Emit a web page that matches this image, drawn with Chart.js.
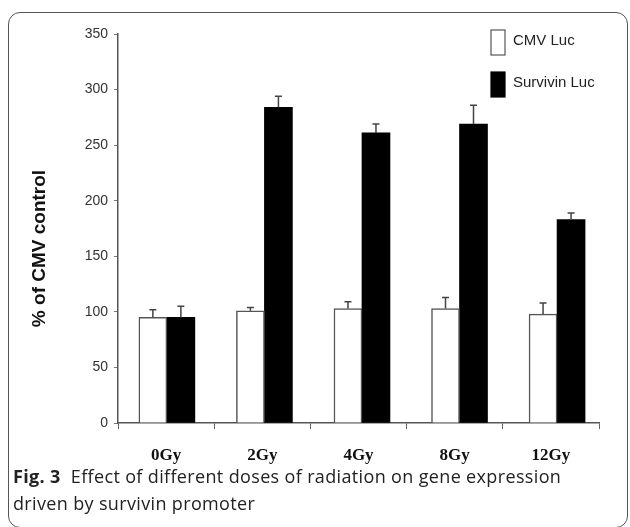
<!DOCTYPE html>
<html><head><meta charset="utf-8">
<script src="https://cdn.jsdelivr.net/npm/chart.js@4.4.1/dist/chart.umd.min.js"></script>
<style>
html,body{margin:0;padding:0;background:#fff;}
#wrap{position:relative;width:630px;height:527px;overflow:hidden;background:#fff;}
#frame{position:absolute;left:8px;top:12px;width:620px;height:516px;border:1.5px solid #555;border-radius:12px;box-sizing:border-box;}
canvas{position:absolute;left:0;top:0;}
#cap{position:absolute;left:13px;top:463px;font-family:"Open Sans";font-size:18px;letter-spacing:0.35px;line-height:27px;color:#222;white-space:nowrap;}
</style></head><body>
<div id="wrap"><div id="frame"></div><canvas id="c" width="630" height="527"></canvas>
<div id="cap"><b>Fig. 3</b>&nbsp; Effect of different doses of radiation on gene expression<br>driven by survivin promoter</div></div>
<script>
const categories = ['0Gy', '2Gy', '4Gy', '8Gy', '12Gy'];
const cmvLuc = [95, 101, 103, 103, 98];
const cmvErr = [7, 3, 6, 10, 10];
const survivinLuc = [95, 284, 261, 269, 183];
const survivinErr = [10, 10, 8, 17, 6];
const seriesNames = ['CMV Luc', 'Survivin Luc'];
const yTitle = '% of CMV control';

const errorBars = {
  id: 'errorBars',
  afterDatasetsDraw(chart) {
    const ctx = chart.ctx, ys = chart.scales.y;
    chart.data.datasets.forEach((ds, di) => {
      const meta = chart.getDatasetMeta(di);
      meta.data.forEach((el, i) => {
        const top = ys.getPixelForValue(ds.data[i].y + ds.errors[i]);
        ctx.save();
        ctx.strokeStyle = '#444';
        ctx.lineWidth = 1.5;
        ctx.beginPath();
        ctx.moveTo(el.x, el.y);
        ctx.lineTo(el.x, top);
        ctx.moveTo(el.x - 3.5, top);
        ctx.lineTo(el.x + 3.5, top);
        ctx.stroke();
        ctx.restore();
      });
    });
  }
};

const customLegend = {
  id: 'customLegend',
  afterDraw(chart) {
    const ctx = chart.ctx;
    const ca = chart.chartArea;
    const bx = ca.right - 108;
    chart.data.datasets.forEach((ds, i) => {
      const y = ca.top - 4 + i * 42;
      ctx.save();
      ctx.fillStyle = ds.backgroundColor;
      ctx.fillRect(bx, y, 14, 25);
      ctx.strokeStyle = ds.borderColor;
      ctx.lineWidth = 1.2;
      ctx.strokeRect(bx, y, 14, 25);
      ctx.fillStyle = '#222';
      ctx.font = '15px "Liberation Sans", Arial, sans-serif';
      ctx.textBaseline = 'middle';
      ctx.textAlign = 'left';
      ctx.fillText(ds.label, bx + 22, y + 11);
      ctx.restore();
    });
  }
};

const yTitlePlugin = {
  id: 'yTitlePlugin',
  afterDraw(chart) {
    const ctx = chart.ctx;
    const ca = chart.chartArea;
    ctx.save();
    ctx.translate(ca.left - 78, (ca.top + ca.bottom) / 2 + 20);
    ctx.rotate(-Math.PI / 2);
    ctx.font = 'bold 19px "Liberation Sans", Arial, sans-serif';
    ctx.fillStyle = '#111';
    ctx.textAlign = 'center';
    ctx.textBaseline = 'middle';
    ctx.fillText(yTitle, 0, 0);
    ctx.restore();
  }
};

new Chart(document.getElementById('c'), {
  type: 'bar',
  data: {
    labels: categories,
    datasets: [
      { label: seriesNames[0], data: cmvLuc.map((v, i) => ({ x: i, y: v })), errors: cmvErr,
        backgroundColor: '#ffffff', borderColor: '#555555', borderWidth: 1.5, xAxisID: 'xb', barThickness: 28 },
      { label: seriesNames[1], data: survivinLuc.map((v, i) => ({ x: i, y: v })), errors: survivinErr,
        backgroundColor: '#000000', borderColor: '#000000', borderWidth: 0, xAxisID: 'xb', barThickness: 28 }
    ]
  },
  options: {
    responsive: false,
    animation: false,
    events: [],
    layout: { padding: { left: 0, right: 31, top: 34, bottom: 0 } },
    plugins: { legend: { display: false }, tooltip: { enabled: false } },
    scales: {
      x: {
        type: 'category',
        position: 'bottom',
        offset: true,
        afterFit(s) { s.height = 104; },
        border: { display: true, color: '#555', width: 1.5 },
        grid: { offset: true, drawOnChartArea: false, drawTicks: true, tickLength: 6, color: '#666', lineWidth: 1 },
        ticks: { font: { family: '"Liberation Serif", serif', size: 17, weight: 'bold' }, color: '#111', padding: 16, maxRotation: 0 }
      },
      xb: {
        type: 'linear',
        display: false,
        min: -0.501,
        max: 4.43,
        offset: false
      },
      y: {
        position: 'left',
        min: 0,
        max: 350,
        afterFit(s) { s.width = 118; },
        border: { display: true, color: '#555', width: 1.5 },
        grid: { drawOnChartArea: false, drawTicks: true, tickLength: 4, color: '#777' },
        ticks: { stepSize: 50, font: { family: '"Liberation Sans", Arial, sans-serif', size: 14 }, color: '#333', padding: 6 }
      }
    }
  },
  plugins: [errorBars, customLegend, yTitlePlugin]
});
</script>
</body></html>
